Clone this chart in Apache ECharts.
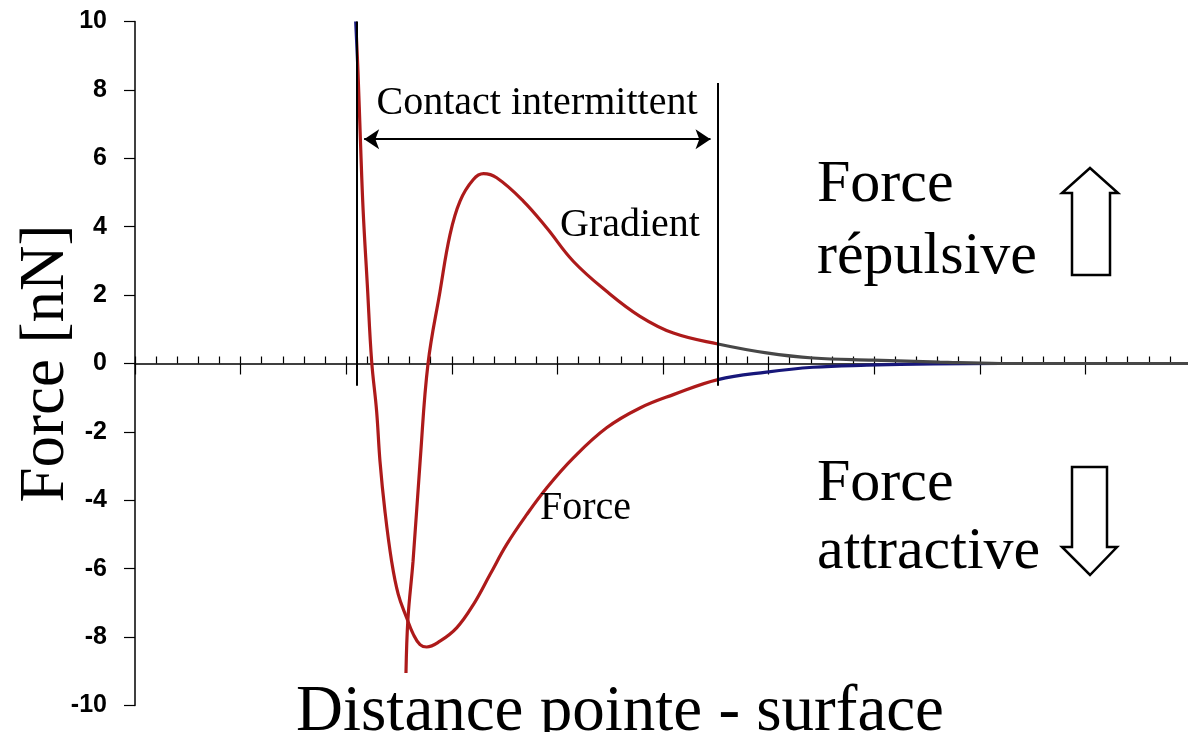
<!DOCTYPE html>
<html>
<head>
<meta charset="utf-8">
<title>Force - distance pointe surface</title>
<style>
  html, body, #main { width: 100%; height: 100%; margin: 0; padding: 0; background: #fff; }
</style>
<script src="https://cdn.jsdelivr.net/npm/echarts@6/dist/echarts.min.js"></script>
</head>
<body>
<div id="main"></div>
<script>
// courbe "Force" [nN] en fonction de la distance (unités arbitraires)
var forceX = [2.09, 2.112, 2.135, 2.16, 2.2, 2.241, 2.288, 2.32, 2.367, 2.43, 2.493, 2.573, 2.636, 2.699,
  2.762, 2.888, 3.046, 3.204, 3.362, 3.52, 3.709, 3.898, 4.151, 4.466, 4.782, 5.098, 5.52,
  5.98, 6.42, 6.93, 7.56, 8.2, 10];
var forceY = [10, 8.5, 6.5, 4.5, 2.3, 0.07, -1.39, -2.86, -4.32, -5.78, -6.75, -7.44, -7.92, -8.22,
  -8.29, -8.12, -7.73, -7.05, -6.17, -5.29, -4.42, -3.64, -2.76, -1.88, -1.3, -0.91, -0.47,
  -0.25, -0.11, -0.05, -0.01, 0, 0];

// courbe "Gradient"
var gradientX = [2.566, 2.585, 2.633, 2.7, 2.775, 2.888, 2.983, 3.078, 3.204, 3.3, 3.425, 3.677,
  3.9, 4.15, 4.466, 4.782, 5.098, 5.52, 5.98, 6.42, 6.99, 7.62, 8.2, 10];
var gradientY = [-9.05, -7.45, -5.78, -2.86, 0, 2.1, 3.77, 4.75, 5.38, 5.55, 5.43, 4.75,
  3.96, 2.99, 2.11, 1.38, 0.89, 0.57, 0.31, 0.16, 0.1, 0.04, 0, 0];

// zone "Contact intermittent"
var contactStart = 2.10;
var contactEnd = 5.52;
var forceTopEnd = 2.112;   // fin du segment bleu en haut de la courbe Force

var RED = '#ad1a1a';
var NAVY = '#17177a';
var GREY = '#474747';

function zip(xs, ys) {
  return xs.map(function (x, i) { return [x, ys[i]]; });
}

var chart = echarts.init(document.getElementById('main'));

var serif = '"Liberation Serif", "Times New Roman", serif';

function label(text, x, y, size, align) {
  return {
    type: 'text', x: x, y: y, z: 10,
    style: {
      text: text, fill: '#000', font: size + 'px ' + serif,
      textAlign: align || 'left', textVerticalAlign: 'middle'
    }
  };
}

chart.setOption({
  animation: false,
  backgroundColor: '#fff',
  grid: { left: 135, top: 21.5, width: 1056, height: 684, containLabel: false, outerBoundsMode: 'none' },
  xAxis: [{
    type: 'value', min: 0, max: 10, interval: 1, position: 'bottom',
    axisLine: { show: true, onZero: true, lineStyle: { color: '#000', width: 1.5 } },
    axisTick: { show: true, inside: true, length: 7, lineStyle: { color: '#000', width: 1.2 } },
    minorTick: { show: true, splitNumber: 5, length: 7, lineStyle: { color: '#000', width: 1.2 } },
    axisLabel: { show: false },
    splitLine: { show: false }
  }, {
    type: 'value', min: 0, max: 10, interval: 1, position: 'top',
    axisLine: { show: false, onZero: true, onZeroAxisIndex: 0 },
    axisTick: { show: true, inside: true, length: 11, lineStyle: { color: '#000', width: 1.2 } },
    axisLabel: { show: false },
    splitLine: { show: false }
  }],
  yAxis: {
    type: 'value', min: -10, max: 10, interval: 2,
    axisLine: { show: true, onZero: false, lineStyle: { color: '#000', width: 1.5 } },
    axisTick: { show: true, length: 11, lineStyle: { color: '#000', width: 1.2 } },
    axisLabel: { margin: 28, fontSize: 25, fontWeight: 'bold', color: '#000',
      fontFamily: '"Liberation Sans", Arial, sans-serif' },
    splitLine: { show: false },
    name: 'Force [nN]',
    nameLocation: 'middle',
    nameGap: 57,
    nameMoveOverlap: false,
    nameTextStyle: { fontFamily: serif, fontSize: 63, color: '#000' }
  },
  visualMap: [{
    type: 'piecewise', show: false, seriesIndex: 0, dimension: 0,
    pieces: [
      { lt: forceTopEnd, color: NAVY },
      { gte: forceTopEnd, lte: contactEnd, color: RED },
      { gt: contactEnd, color: NAVY }
    ]
  }, {
    type: 'piecewise', show: false, seriesIndex: 1, dimension: 0,
    pieces: [
      { lt: gradientX[0], color: RED },
      { gte: gradientX[0], lte: contactEnd, color: RED },
      { gt: contactEnd, color: GREY }
    ]
  }],
  series: [{
    name: 'Force', type: 'line', data: zip(forceX, forceY),
    showSymbol: false, smooth: 0.4,
    lineStyle: { width: 3.2 }, z: 4
  }, {
    name: 'Gradient', type: 'line', data: zip(gradientX, gradientY),
    showSymbol: false, smooth: 0.4,
    lineStyle: { width: 3.2 }, z: 4
  }, {
    name: 'Contact intermittent', type: 'line', data: [], z: 2,
    markLine: {
      silent: true, symbol: 'none', animation: false,
      label: { show: false },
      lineStyle: { type: 'solid', color: '#000', width: 2 },
      data: [
        [{ coord: [contactStart, 10] }, { coord: [contactStart, -0.65] }],
        [{ coord: [contactEnd, 8.2] }, { coord: [contactEnd, -0.65] }],
        [{ coord: [contactStart + 0.07, 6.56], symbol: 'arrow', symbolSize: 15 },
         { coord: [contactEnd - 0.07, 6.56], symbol: 'arrow', symbolSize: 15 }]
      ]
    }
  }],
  graphic: [
    label('Distance pointe - surface', 620, 713, 65, 'center'),
    label('Contact intermittent', 537, 103, 40, 'center'),
    label('Gradient', 560, 225, 40),
    label('Force', 540, 508, 40),
    label('Force', 817, 185, 60),
    label('répulsive', 817, 257, 60),
    label('Force', 817, 484, 60),
    label('attractive', 817, 552, 60),
    {
      type: 'polygon', z: 10,
      shape: { points: [[1090, 168], [1118, 193], [1110, 193], [1110, 275], [1072, 275], [1072, 193], [1062, 193]] },
      style: { fill: '#fff', stroke: '#000', lineWidth: 2.5 }
    },
    {
      type: 'polygon', z: 10,
      shape: { points: [[1072, 467], [1107, 467], [1107, 547], [1117, 547], [1090, 575], [1062, 547], [1072, 547]] },
      style: { fill: '#fff', stroke: '#000', lineWidth: 2.5 }
    }
  ]
});
</script>
</body>
</html>
